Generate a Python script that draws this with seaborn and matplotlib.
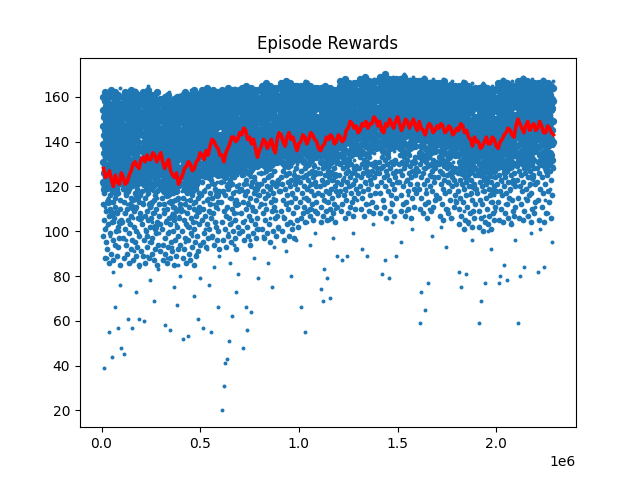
import numpy as np
import matplotlib
matplotlib.use("Agg")
import matplotlib.pyplot as plt
import seaborn as sns

# episode rewards, grouped in bins of 100k steps
bin_starts = [i * 100_000 for i in range(23)]
bin_end = 2_290_000

# the wide spread of episodes in each bin (incl. the low outliers)
rewards_by_bin = [
    [139, 152, 127, 118, 160, 145, 39, 133, 148, 111, 156, 124, 102, 141, 158, 136, 88, 150, 129, 115, 147, 162, 121, 55, 143, 135, 107, 154, 131, 98, 149, 126, 140, 113, 157, 44, 137, 146, 120, 82, 153, 130, 104, 144, 159, 123, 66, 138, 151, 117, 134, 109, 155, 142, 93, 128, 161, 119, 57, 147, 132, 100, 153, 125, 76, 140, 164, 114, 145, 48],
    [146, 131, 158, 122, 139, 108, 152, 45, 135, 161, 117, 143, 127, 150, 96, 138, 155, 112, 130, 148, 61, 124, 157, 141, 103, 134, 153, 119, 145, 128, 86, 160, 137, 114, 149, 126, 140, 57, 156, 132, 106, 144, 121, 151, 91, 136, 163, 116, 142, 129, 73, 154, 133, 110, 147, 125, 159, 99, 139, 150, 118, 61, 145, 131, 84, 157, 123, 138, 105, 152],
    [149, 128, 156, 113, 142, 135, 161, 60, 138, 120, 153, 146, 101, 131, 158, 124, 144, 89, 137, 151, 116, 133, 165, 127, 148, 95, 140, 155, 122, 136, 78, 150, 130, 111, 157, 143, 126, 104, 152, 139, 118, 160, 134, 69, 147, 125, 154, 108, 141, 132, 92, 159, 121, 145, 137, 115, 151, 128, 83, 144, 162, 119, 135, 149, 99, 127, 156, 140, 112, 146],
    [143, 126, 155, 110, 138, 149, 121, 97, 152, 132, 117, 160, 140, 58, 128, 147, 105, 135, 157, 119, 144, 88, 130, 153, 113, 141, 125, 162, 100, 137, 150, 116, 56, 134, 146, 123, 159, 108, 139, 129, 93, 154, 118, 142, 127, 75, 148, 136, 111, 158, 122, 145, 103, 133, 151, 120, 67, 140, 131, 156, 114, 144, 85, 126, 161, 138, 107, 149, 124, 80],
    [150, 131, 158, 118, 143, 126, 155, 52, 139, 147, 109, 134, 161, 122, 145, 95, 137, 153, 114, 129, 157, 141, 102, 136, 149, 125, 53, 160, 133, 117, 146, 128, 87, 152, 140, 106, 135, 163, 121, 144, 98, 131, 155, 112, 148, 138, 71, 127, 159, 142, 119, 134, 151, 104, 146, 130, 90, 157, 124, 139, 115, 153, 136, 61, 143, 128, 162, 110, 150, 79],
    [152, 137, 160, 124, 146, 113, 155, 141, 57, 133, 158, 129, 149, 101, 143, 162, 119, 136, 154, 127, 92, 147, 139, 157, 115, 131, 150, 144, 76, 126, 161, 138, 108, 153, 134, 148, 121, 55, 156, 142, 130, 97, 151, 125, 159, 140, 112, 145, 135, 84, 163, 128, 149, 118, 137, 154, 104, 143, 132, 158, 122, 66, 146, 139, 110, 152, 127, 160, 89, 141],
    [151, 136, 159, 20, 144, 127, 155, 117, 140, 148, 31, 132, 162, 122, 146, 41, 138, 153, 110, 130, 157, 143, 43, 126, 150, 135, 99, 160, 141, 115, 51, 147, 133, 156, 120, 86, 145, 138, 161, 128, 104, 152, 139, 62, 124, 158, 144, 113, 134, 149, 94, 142, 164, 131, 118, 154, 137, 73, 147, 125, 159, 108, 140, 150, 129, 81, 155, 136, 121, 146],
    [153, 140, 161, 128, 147, 134, 157, 118, 143, 150, 48, 137, 164, 125, 145, 105, 139, 155, 131, 66, 149, 142, 159, 121, 56, 136, 152, 144, 113, 133, 160, 129, 146, 96, 141, 156, 124, 138, 151, 64, 135, 163, 127, 148, 109, 143, 158, 132, 119, 154, 139, 88, 146, 130, 162, 123, 150, 137, 101, 157, 144, 116, 134, 153, 126, 79, 148, 141, 160, 111],
    [154, 139, 162, 130, 148, 143, 158, 121, 145, 151, 136, 98, 160, 133, 149, 126, 155, 141, 112, 147, 163, 134, 152, 117, 140, 157, 128, 86, 150, 144, 161, 125, 138, 153, 131, 106, 146, 159, 137, 120, 152, 142, 75, 135, 164, 129, 148, 115, 156, 140, 133, 93, 151, 145, 127, 158, 138, 109, 149, 132, 161, 123, 144, 154, 136, 101, 147, 139, 165, 118],
    [155, 141, 163, 132, 149, 138, 159, 124, 146, 152, 135, 107, 160, 143, 128, 156, 147, 119, 153, 139, 166, 131, 150, 91, 145, 158, 136, 126, 154, 142, 113, 148, 162, 133, 157, 140, 122, 151, 144, 80, 137, 161, 129, 149, 116, 155, 143, 134, 152, 103, 146, 159, 138, 127, 153, 141, 164, 121, 148, 135, 157, 96, 144, 150, 130, 160, 139, 111, 154, 147],
    [156, 142, 164, 134, 150, 66, 139, 158, 127, 147, 153, 137, 115, 161, 144, 131, 155, 149, 55, 140, 167, 124, 152, 145, 135, 159, 104, 148, 138, 157, 129, 150, 143, 120, 162, 136, 154, 146, 94, 141, 160, 132, 151, 126, 157, 144, 139, 110, 153, 148, 163, 130, 145, 155, 121, 142, 158, 137, 99, 151, 147, 133, 160, 140, 117, 154, 144, 128, 161, 149],
    [155, 143, 162, 133, 149, 74, 140, 158, 128, 146, 152, 69, 136, 165, 122, 148, 155, 139, 83, 144, 160, 131, 151, 113, 141, 157, 135, 79, 147, 154, 126, 162, 142, 137, 105, 150, 158, 132, 145, 70, 153, 140, 119, 163, 138, 149, 127, 156, 143, 97, 151, 134, 160, 146, 123, 154, 141, 110, 158, 137, 148, 130, 161, 145, 89, 152, 139, 125, 157, 144],
    [158, 146, 165, 138, 152, 144, 160, 131, 149, 156, 141, 87, 163, 148, 135, 157, 151, 124, 154, 143, 168, 137, 153, 147, 118, 159, 142, 155, 89, 150, 162, 139, 146, 129, 157, 152, 144, 108, 161, 140, 154, 134, 149, 164, 145, 120, 156, 150, 138, 160, 143, 99, 153, 147, 166, 132, 151, 158, 141, 126, 155, 148, 163, 136, 150, 114, 159, 145, 142, 157],
    [160, 148, 167, 141, 155, 151, 162, 136, 152, 158, 145, 92, 164, 150, 139, 159, 154, 128, 157, 147, 169, 142, 156, 149, 121, 161, 146, 153, 89, 158, 163, 140, 150, 133, 160, 155, 147, 112, 165, 144, 157, 137, 152, 166, 148, 125, 159, 153, 143, 162, 146, 103, 156, 150, 168, 135, 154, 161, 145, 130, 158, 151, 164, 138, 153, 117, 162, 149, 144, 159],
    [161, 149, 168, 143, 156, 152, 163, 137, 153, 159, 146, 81, 165, 151, 140, 160, 155, 129, 158, 148, 170, 144, 157, 150, 87, 162, 147, 154, 120, 159, 164, 141, 151, 134, 161, 156, 148, 79, 166, 145, 158, 138, 153, 167, 149, 113, 160, 154, 142, 163, 147, 104, 157, 151, 169, 136, 155, 162, 146, 126, 159, 152, 165, 139, 154, 89, 163, 150, 144, 158],
    [162, 150, 168, 144, 157, 153, 164, 138, 154, 160, 147, 95, 166, 152, 141, 161, 156, 130, 159, 149, 170, 145, 158, 151, 122, 163, 148, 155, 109, 160, 165, 142, 152, 135, 162, 157, 149, 116, 167, 146, 159, 139, 154, 168, 150, 127, 161, 155, 143, 164, 148, 101, 158, 152, 169, 137, 156, 163, 147, 132, 160, 153, 166, 140, 155, 119, 164, 151, 145, 159],
    [161, 149, 167, 142, 156, 59, 151, 163, 136, 153, 159, 145, 73, 165, 150, 139, 160, 154, 128, 157, 147, 169, 143, 156, 148, 65, 162, 146, 152, 119, 158, 164, 140, 150, 133, 161, 155, 77, 147, 110, 166, 144, 157, 138, 152, 167, 148, 124, 159, 153, 141, 163, 146, 98, 156, 150, 168, 135, 154, 161, 145, 130, 158, 151, 165, 137, 153, 114, 162, 149],
    [159, 146, 166, 139, 153, 149, 161, 133, 150, 157, 142, 102, 164, 147, 136, 158, 152, 125, 155, 144, 168, 140, 154, 148, 117, 160, 143, 151, 93, 157, 163, 137, 148, 130, 159, 153, 145, 110, 165, 141, 156, 134, 150, 166, 146, 121, 158, 152, 139, 162, 144, 106, 155, 149, 167, 131, 153, 160, 142, 127, 157, 150, 164, 135, 151, 114, 161, 147, 138, 156],
    [158, 144, 165, 135, 151, 82, 146, 160, 129, 148, 155, 139, 75, 163, 145, 132, 157, 150, 120, 153, 142, 167, 136, 152, 146, 109, 159, 140, 149, 81, 156, 162, 133, 147, 124, 158, 151, 143, 103, 164, 138, 155, 128, 149, 165, 144, 116, 157, 150, 137, 161, 141, 96, 154, 147, 166, 126, 152, 159, 140, 119, 156, 148, 163, 131, 150, 112, 160, 145, 134],
    [157, 143, 164, 133, 150, 59, 145, 159, 127, 147, 154, 137, 69, 162, 144, 130, 156, 149, 118, 152, 141, 166, 134, 151, 145, 107, 158, 139, 148, 77, 155, 161, 131, 146, 122, 157, 150, 142, 100, 163, 136, 154, 126, 148, 164, 143, 113, 156, 149, 135, 160, 140, 92, 153, 146, 165, 124, 151, 158, 139, 116, 155, 147, 162, 129, 149, 109, 159, 144, 132],
    [159, 146, 166, 137, 153, 77, 148, 161, 131, 150, 157, 141, 80, 164, 147, 134, 158, 152, 122, 155, 144, 168, 138, 154, 148, 85, 160, 142, 151, 112, 157, 163, 135, 149, 126, 159, 153, 145, 78, 165, 140, 156, 129, 151, 166, 146, 118, 158, 152, 139, 162, 143, 104, 155, 149, 167, 128, 154, 160, 142, 121, 157, 150, 164, 133, 152, 96, 161, 147, 136],
    [160, 147, 167, 139, 154, 59, 149, 162, 133, 151, 158, 143, 80, 165, 148, 136, 159, 153, 125, 156, 145, 169, 140, 155, 149, 84, 161, 144, 152, 115, 158, 164, 137, 150, 128, 160, 154, 146, 107, 166, 141, 157, 131, 152, 167, 147, 120, 159, 153, 141, 163, 145, 99, 156, 150, 168, 130, 155, 161, 143, 123, 158, 151, 165, 135, 153, 111, 162, 148, 138],
    [159, 146, 166, 138, 153, 82, 148, 161, 132, 150, 157, 142, 101, 164, 147, 135, 158, 152, 124, 155, 144, 168, 139, 154, 148, 84, 160, 143, 151, 114, 157, 163, 136, 149, 127, 159, 153, 145, 108, 165, 140, 156, 130, 151, 166, 146, 119, 158, 152, 141, 162, 144, 95, 155, 149, 167, 129, 154],
]

# episodes just below the dense core in each bin
mid_by_bin = [
    "112 98 121 105 117 88 101 124 109 95 119 92 103 114 122 86 107 99 116 110 123 90 104 118 96 113 87 120 106 111 94 115 100 119 89 108 117 102 93 121 97 110 85 114 105",
    "104 119 97 113 88 123 108 101 116 94 121 90 110 105 118 99 86 124 112 103 115 92 107 120 96 114 87 109 122 102 95 117 89 111 100 119 93 106 121 98 113 85 116 108 91",
    "118 103 89 112 96 122 107 86 115 100 120 93 109 98 117 105 124 88 111 102 119 95 106 113 90 97 121 108 114 87 101 116 92 110 99 118 104 85 123 94 112 107 119 91 103",
    "101 115 94 87 120 108 112 97 90 118 104 123 86 110 99 116 93 106 121 103 88 113 95 119 107 91 111 100 117 85 105 114 96 122 89 109 102 118 92 115 98 120 106 112 94",
    "109 121 100 88 115 105 119 92 97 112 123 86 103 117 108 96 120 90 111 102 114 87 106 122 99 116 93 104 118 110 85 101 113 95 119 89 107 121 98 115 91 111 103 117 94",
    "116 105 122 95 110 99 118 107 124 93 103 114 120 97 109 101 117 112 106 123 98 115 108 121 94 104 119 111 102 125 96 113 100 118 92",
    "113 122 104 96 118 109 125 101 116 93 107 120 111 98 119 106 123 103 115 95 110 121 100 117 108 124 97 105 114 92 120 102 112 99 118",
    "119 108 125 100 113 104 121 96 116 110 123 102 118 98 112 126 107 115 94 120 105 122 111 99 117 124 103 109 114 97 121 106 120 101 116",
    "121 112 126 101 108 118 97 123 105 115 127 110 99 120 116 124 103 119 95 113 125 109 122 100 117 111 127 106 114 98 120 107 123 102 118",
    "118 124 109 100 121 114 127 106 96 119 112 125 103 116 122 110 98 126 104 120 113 123 101 117 108 125 97 115 121 111 128 105 119 102 124",
    "122 113 127 106 117 108 124 120 111 128 104 115 125 109 119 123 114 126 107 110 121 118 127 112 124 105 116 129 109 122 113 120 108 126 117",
    "120 126 111 104 123 116 128 107 121 114 125 109 118 122 105 127 113 124 117 110 126 106 119 115 123 108 112 128 120 104 125 118 111 122 116",
    "125 118 130 121 109 112 128 123 116 131 106 119 126 114 129 122 108 127 120 124 111 117 130 113 126 121 107 128 115 123 110 129 119 125 117",
    "128 120 133 124 110 115 130 126 118 132 107 122 129 112 127 131 119 125 109 133 116 123 130 121 113 127 108 129 124 117 131 111 126 120 128",
    "126 131 117 108 128 122 133 114 129 124 111 120 132 127 106 130 125 118 133 123 109 128 116 131 121 112 126 130 119 107 124 132 115 127 122",
    "130 122 134 127 109 116 131 125 120 112 133 128 107 113 130 123 132 118 110 126 134 121 129 106 124 115 131 127 119 111 133 125 117 128 121",
    "127 133 119 110 130 124 115 132 108 126 121 134 112 128 117 131 123 106 129 113 133 125 120 109 130 127 118 132 111 124 122 128 114 131 116",
    "124 130 115 107 127 121 131 112 126 119 105 129 123 117 131 110 125 128 122 108 130 118 126 114 129 106 124 120 127 111 123 128 116 121 113",
    "118 126 110 103 123 115 129 107 121 113 127 101 119 124 105 122 116 128 111 125 104 120 108 126 117 123 102 114 128 109 121 106 125 112 119",
    "117 125 109 102 122 114 128 106 120 112 126 100 118 123 104 121 115 127 110 124 103 119 107 125 116 122 101 113 127 108 120 105 124 111 118",
    "121 128 113 105 125 118 130 110 123 116 129 104 120 126 108 124 117 130 112 127 106 122 115 128 119 125 103 114 129 109 123 107 126 111 120",
    "123 129 115 106 127 120 131 112 125 118 130 105 122 128 109 126 119 131 114 128 107 124 116 129 121 127 104 117 130 110 125 108 128 113 121",
    "122 128 114 105 126 119 130 111 124 117 129 104 121 127 108 125 118 130 113 127 106 123 116 128",
]

# the dense core of episodes in each bin
core_by_bin = [
    "131 154 122 147 139 160 126 143 151 135 119 158 129 145 137 162 124 149 133 156 141 121 153 128 146 138 159 125 150 134 113 157 142 130 148 123 161 136 152 127 144 140 155 120 132 163 147 126 153 138 108 150 131 157 143 124 160 135 148 129 154 141 122 146 137 158 133 151 127 162 139 117 145 130 156 142 125 149 134 159 121 144 136 152 128 161 140 132 155 123 147 138 104 153 126 150 143 129 157 135",
    "148 127 156 135 142 121 160 133 151 139 125 157 144 130 153 137 162 122 146 134 158 128 141 150 118 136 155 131 147 124 161 139 143 129 152 136 120 159 145 132 154 126 149 140 163 123 138 157 131 146 111 151 128 142 160 135 155 124 148 137 132 158 121 144 153 127 139 162 134 150 125 141 156 130 147 138 115 152 123 145 159 133 140 126 154 143 136 161 129 149 122 157 137 146 131 153 106 144 128 151",
    "137 158 124 149 131 143 162 128 153 140 121 147 135 156 126 144 160 132 150 138 123 155 141 129 161 146 134 152 119 139 157 127 145 133 163 122 148 136 154 130 142 159 125 151 137 112 146 131 158 140 126 153 134 161 143 129 149 120 156 138 145 132 152 124 160 141 135 147 127 155 139 102 150 133 144 158 122 148 136 154 130 162 142 125 151 137 146 128 157 140 134 153 121 149 143 131 159 126 145 138",
    "133 152 120 146 128 141 159 125 149 136 118 155 131 143 123 157 138 127 150 134 160 121 145 130 153 139 116 148 126 156 135 142 122 151 129 144 161 132 147 119 154 137 124 158 140 128 149 113 143 133 152 121 157 136 126 146 131 155 139 123 150 141 107 134 159 127 145 120 153 138 130 148 124 156 135 142 118 151 129 160 137 144 122 147 132 154 126 140 158 134 121 149 139 128 152 110 143 125 157 136",
    "140 158 126 151 133 145 161 129 154 137 121 148 142 156 124 150 135 159 131 146 139 162 122 153 128 144 157 134 149 118 141 160 127 152 136 147 123 155 132 143 158 130 150 138 125 161 145 133 154 119 140 148 128 157 136 151 124 146 142 160 131 153 137 122 149 144 156 127 139 163 134 147 120 152 141 129 158 135 150 126 143 155 132 138 161 123 145 109 153 130 148 140 157 125 136 151 142 128 159 134",
    "145 161 130 154 138 149 163 133 157 141 126 152 136 159 128 147 143 162 131 155 139 150 125 158 134 146 160 129 153 137 144 164 132 151 140 156 127 148 135 161 142 154 130 146 124 159 138 152 133 157 143 128 149 162 136 155 131 147 140 158 126 151 139 163 134 145 153 129 160 137 148 132 156 141 127 150 144 161 135 154 130 146 116 157 138 152 133 159 125 142 149 136 162 131 155 139 147 128 158 143",
    "142 160 129 153 137 147 163 132 156 140 125 151 135 158 127 146 144 161 130 154 138 149 124 157 133 145 162 128 152 136 143 159 131 150 141 155 126 148 134 164 139 153 129 145 121 160 137 151 132 157 142 127 149 161 135 154 130 147 140 158 125 150 138 163 133 144 156 128 152 136 146 131 159 141 126 148 143 162 134 155 129 145 112 153 139 157 132 150 137 160 127 141 148 135 163 130 154 138 146 144",
    "147 162 133 155 140 151 164 136 158 143 128 153 138 160 131 149 145 163 134 156 141 152 127 159 137 148 161 132 154 139 146 165 135 150 142 157 130 152 144 162 136 155 133 148 126 160 140 153 137 158 143 129 151 164 139 156 134 149 141 161 128 153 145 159 132 147 154 131 162 138 150 135 157 142 130 152 146 163 136 155 133 148 119 158 140 153 137 160 129 144 150 138 163 134 156 141 149 131 159 145",
    "149 163 135 156 142 152 165 138 159 145 130 154 140 161 133 150 147 164 136 157 143 153 129 160 139 149 162 134 155 141 148 166 137 151 144 158 132 153 146 163 138 156 135 150 128 161 142 154 139 159 145 131 152 165 141 157 136 151 143 162 130 155 147 160 134 148 156 133 163 140 152 137 158 144 132 154 148 164 138 157 135 150 121 159 142 155 139 161 131 146 151 140 164 136 157 143 150 133 160 147",
    "150 164 136 157 143 153 166 139 160 146 131 155 141 162 134 151 148 165 137 158 144 154 130 161 140 150 163 135 156 142 149 167 138 152 145 159 133 154 147 164 139 157 136 151 129 162 143 155 140 160 146 132 153 166 142 158 137 152 144 163 131 156 148 161 135 149 157 134 164 141 153 138 159 145 133 155 149 165 139 158 136 151 123 160 143 156 140 162 132 147 152 141 165 137 158 144 151 134 161 148",
    "149 163 137 156 143 152 165 140 159 146 132 154 141 161 135 150 147 164 138 157 144 153 131 160 139 149 162 136 155 142 148 166 139 151 145 158 134 153 146 163 140 156 137 150 130 161 143 154 141 159 145 133 152 165 142 157 138 151 144 162 132 155 147 160 136 148 156 135 163 141 152 139 158 145 134 154 148 164 140 157 137 150 126 159 143 155 141 161 133 146 151 142 164 138 157 144 150 135 160 147",
    "148 162 136 155 142 151 164 139 158 145 131 153 140 160 134 149 146 163 137 156 143 152 130 159 138 148 161 135 154 141 147 165 138 150 144 157 133 152 145 162 139 155 136 149 129 160 142 153 140 158 144 132 151 164 141 156 137 150 143 161 131 154 146 159 135 147 155 134 162 140 151 138 157 144 133 153 147 163 139 156 136 149 125 158 142 154 140 160 132 145 150 141 163 137 156 143 149 134 159 146",
    "152 165 140 158 146 155 167 143 161 149 134 157 144 163 137 153 150 166 141 159 147 156 133 162 142 152 164 139 158 145 151 168 142 154 148 160 136 155 149 165 143 158 140 153 132 163 146 156 144 161 148 135 154 166 145 159 141 153 147 164 134 157 150 162 139 151 158 137 165 144 155 142 160 147 136 156 150 166 143 159 140 152 128 161 146 157 144 163 135 148 153 145 166 141 159 147 152 138 162 150",
    "154 166 142 159 148 157 168 145 162 151 136 158 146 164 139 155 152 167 143 160 149 157 135 163 144 154 165 141 159 147 153 169 144 156 150 161 138 157 151 166 145 159 142 155 134 164 148 158 146 162 150 137 156 167 147 160 143 154 149 165 136 158 152 163 141 153 159 139 166 146 157 144 161 149 138 157 152 167 145 160 142 154 130 162 148 158 146 164 137 150 155 147 167 143 160 149 154 140 163 152",
    "155 167 143 160 149 158 169 146 163 152 137 159 147 165 140 156 153 168 144 161 150 158 136 164 145 155 166 142 160 148 154 170 145 157 151 162 139 158 152 167 146 160 143 156 135 165 149 159 147 163 151 138 157 168 148 161 144 155 150 166 137 159 153 164 142 154 160 140 167 147 158 145 162 150 139 158 153 168 146 161 143 155 131 163 149 159 147 165 138 151 156 148 168 144 161 150 155 141 164 153",
    "154 166 143 160 148 157 168 146 162 151 137 158 147 164 140 155 152 167 144 161 149 157 136 163 145 154 165 142 159 148 153 169 145 156 150 161 139 157 151 166 146 159 143 155 135 164 149 158 147 162 150 138 156 167 148 160 144 154 149 165 137 158 152 163 142 153 159 140 166 147 157 145 161 149 139 157 152 167 146 160 143 154 131 162 148 158 146 164 138 150 155 147 167 144 160 149 154 141 163 152",
    "153 165 141 159 147 156 167 144 161 150 135 157 145 163 138 154 151 166 142 160 148 156 134 162 143 153 164 140 158 146 152 168 143 155 149 160 137 156 150 165 144 158 141 154 133 163 147 157 145 161 149 136 155 166 146 159 142 153 148 164 135 157 151 162 140 152 158 138 165 145 156 143 160 148 137 156 151 166 144 159 141 153 129 161 147 157 145 163 136 149 154 146 166 142 159 148 153 139 162 151",
    "151 164 139 157 145 154 166 142 160 148 133 156 143 162 136 152 149 165 140 158 146 155 132 161 141 151 163 138 157 144 150 167 141 153 147 159 135 155 148 164 142 157 139 152 131 162 145 156 143 160 147 134 154 165 144 158 140 152 146 163 133 156 149 161 138 150 157 136 164 143 155 141 159 146 135 154 149 165 142 158 139 151 127 160 145 156 143 162 134 147 153 144 165 140 158 146 151 137 161 149",
    "149 163 134 156 142 152 165 138 159 145 128 154 139 161 131 150 146 164 135 157 143 153 126 160 137 148 162 132 155 141 147 166 136 151 144 158 129 153 145 163 137 156 133 150 124 161 142 154 139 159 144 130 152 165 140 157 135 149 143 162 127 155 146 160 133 148 156 131 164 139 153 136 158 143 129 154 147 163 137 157 134 150 120 159 141 155 138 161 128 145 151 140 164 135 157 142 149 132 160 146",
    "148 162 133 155 141 151 164 137 158 144 127 153 138 160 130 149 145 163 134 156 142 152 125 159 136 147 161 131 154 140 146 165 135 150 143 157 128 152 144 162 136 155 132 149 123 160 141 153 138 158 143 129 151 164 139 156 134 148 142 161 126 154 145 159 132 147 155 130 163 138 152 135 157 142 128 153 146 162 136 156 133 149 118 158 140 154 137 160 127 144 150 139 163 134 156 141 148 131 159 145",
    "150 164 136 157 143 153 166 140 160 147 130 155 141 162 133 151 148 165 137 158 144 154 129 161 139 149 163 134 156 142 148 167 138 152 145 159 131 154 146 164 139 157 135 151 127 162 143 155 140 160 145 132 153 166 141 158 137 150 144 163 129 156 147 161 134 149 157 133 165 140 154 138 159 144 131 155 148 164 139 158 136 151 122 160 142 156 140 162 130 146 152 141 165 137 158 143 150 134 161 147",
    "152 165 138 158 145 155 167 142 161 149 132 157 143 163 135 153 150 166 139 159 146 156 131 162 141 151 164 136 157 144 150 168 140 154 147 160 133 156 148 165 141 158 137 153 129 163 145 157 142 161 147 134 155 167 143 159 139 152 146 164 131 157 149 162 136 151 158 135 166 142 155 140 160 146 133 156 150 165 141 159 138 153 124 161 144 157 142 163 132 148 154 143 166 139 159 145 152 136 162 149",
    "151 164 137 157 144 154 166 141 160 148 131 156 142 162 134 152 149 165 138 158 145 155 130 161 140 150 163 135 156 143 149 167 139 153 146 159 132 155 147 164 140 157 136 152 128 162 144 156 141 160 146 133 154 166 142 158 138 151 145 163 130 156 148 161 135 150 157 134 165 141 154 139 159 145 132 155 149 164 140 158",
]

# moving average (red line), one value every 10k steps from 10k to 2.29M
avg_rewards = [
    128, 124, 125, 127, 123, 120, 125, 122, 121, 126, 124, 121, 122, 125, 127, 130, 131, 129, 128, 132,
    133, 131, 134, 132, 132, 135, 134, 131, 133, 135, 131, 128, 130, 132, 127, 125, 124, 126, 121, 123,
    125, 128, 129, 131, 130, 127, 128, 131, 132, 135, 134, 132, 136, 134, 138, 141, 140, 138, 137, 134,
    134, 131, 135, 137, 139, 142, 142, 140, 141, 144, 143, 146, 145, 141, 142, 139, 141, 137, 133, 136,
    138, 141, 140, 137, 139, 141, 137, 135, 141, 144, 143, 140, 138, 142, 144, 141, 142, 139, 136, 139,
    140, 143, 142, 139, 141, 144, 143, 141, 140, 137, 136, 138, 139, 142, 141, 143, 142, 139, 140, 143,
    142, 140, 141, 145, 146, 149, 148, 146, 147, 144, 145, 148, 147, 149, 146, 148, 148, 151, 150, 147,
    149, 145, 144, 148, 147, 150, 148, 146, 149, 151, 148, 145, 147, 150, 149, 146, 148, 150, 147, 145,
    149, 146, 145, 143, 146, 148, 147, 144, 145, 147, 146, 148, 147, 144, 145, 147, 146, 143, 144, 146,
    145, 148, 147, 144, 145, 142, 141, 138, 142, 140, 140, 137, 138, 140, 142, 139, 139, 142, 141, 138,
    137, 140, 141, 143, 144, 146, 145, 143, 142, 147, 150, 148, 146, 144, 147, 149, 145, 147, 148, 145,
    146, 149, 147, 144, 144, 147, 146, 144, 143,
]
avg_start, avg_end = 10_000, 2_290_000


def spread(groups):
    # place the episodes of every bin evenly across that bin
    ends = bin_starts[1:] + [bin_end]
    xs, ys = [], []
    for start, end, vals in zip(bin_starts, ends, groups):
        if isinstance(vals, str):
            vals = [int(v) for v in vals.split()]
        xs.extend(np.linspace(start + 5_000, end, len(vals), endpoint=False))
        ys.extend(vals)
    return xs, ys


wide_x, wide_y = spread(rewards_by_bin)
mid_x, mid_y = spread(mid_by_bin)
core_x, core_y = spread(core_by_bin)
avg_steps = np.linspace(avg_start, avg_end, len(avg_rewards))

blue = "#1f77b4"
fig, ax = plt.subplots(figsize=(6.4, 4.8), dpi=100)
sns.scatterplot(x=core_x, y=core_y, s=28, color=blue, linewidth=0, ax=ax)
sns.scatterplot(x=mid_x, y=mid_y, s=17, color=blue, linewidth=0, ax=ax)
sns.scatterplot(x=wide_x, y=wide_y, s=8, color=blue, linewidth=0, ax=ax)
sns.lineplot(x=avg_steps, y=avg_rewards, color="red", linewidth=2.6, ax=ax)
ax.set_title("Episode Rewards")
ax.set_yticks([20, 40, 60, 80, 100, 120, 140, 160])
fig.savefig("out.png")
